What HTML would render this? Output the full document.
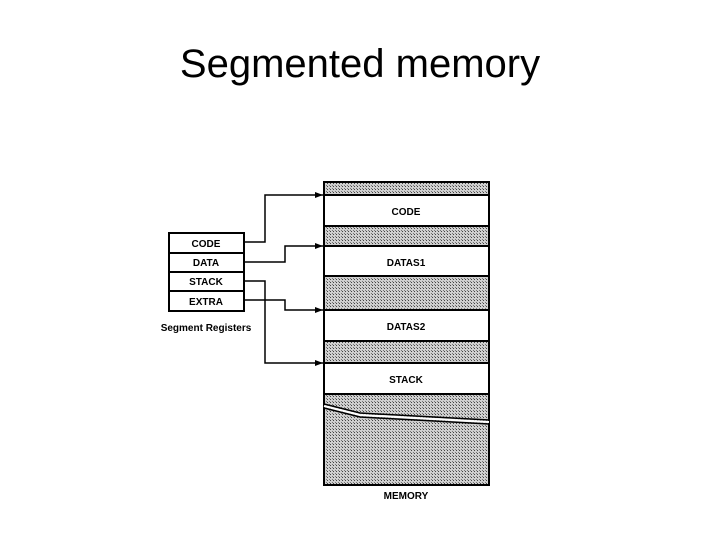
<!DOCTYPE html>
<html><head><style>
body{margin:0;width:720px;height:540px;background:#fff;overflow:hidden}
.t{position:absolute;left:0;width:720px;top:42px;text-align:center;font-family:"Liberation Sans",sans-serif;font-size:40px;color:#000}
</style></head><body>
<div class="t">Segmented memory</div>
<svg width="720" height="540" style="position:absolute;left:0;top:0">
<defs>
<pattern id="p" width="3" height="3" patternUnits="userSpaceOnUse">
<rect width="3" height="3" fill="#cfcfcf"/><rect width="1" height="1" fill="#444"/><rect x="2" y="2" width="1" height="1" fill="#777"/>
</pattern>
<marker id="a" markerWidth="8" markerHeight="6" refX="8" refY="3" orient="auto" markerUnits="userSpaceOnUse"><path d="M0,0L8,3L0,6z" fill="#000"/></marker>
</defs>
<g stroke="#000" stroke-width="2">
<rect x="324" y="182" width="165" height="303" fill="url(#p)"/>
<rect x="324" y="195" width="165" height="31" fill="#fff"/>
<rect x="324" y="246" width="165" height="30" fill="#fff"/>
<rect x="324" y="310" width="165" height="31" fill="#fff"/>
<rect x="324" y="363" width="165" height="31" fill="#fff"/>
</g>
<path d="M324,404 L360,413 L489,420" stroke="#000" stroke-width="1.5" fill="none"/>
<path d="M324,406 L360,415 L489,422" stroke="#fff" stroke-width="2" fill="none"/>
<path d="M324,408 L360,417 L489,424" stroke="#000" stroke-width="1.5" fill="none"/>
<g stroke="#000" stroke-width="2" fill="#fff">
<rect x="169" y="233" width="75" height="20"/>
<rect x="169" y="253" width="75" height="19"/>
<rect x="169" y="272" width="75" height="19"/>
<rect x="169" y="291" width="75" height="20"/>
</g>
<g stroke="#000" stroke-width="1.5" fill="none" marker-end="url(#a)">
<path d="M244,242H265V195H323"/>
<path d="M244,262H285V246H323"/>
<path d="M244,281H265V363H323"/>
<path d="M244,300H285V310H323"/>
</g>
<g font-family="Liberation Sans,sans-serif" font-weight="bold" font-size="10" text-anchor="middle" fill="#000">
<text x="206" y="247">CODE</text>
<text x="206" y="266">DATA</text>
<text x="206" y="285">STACK</text>
<text x="206" y="305">EXTRA</text>
<text x="206" y="331">Segment Registers</text>
<text x="406" y="215">CODE</text>
<text x="406" y="266">DATAS1</text>
<text x="406" y="330">DATAS2</text>
<text x="406" y="383">STACK</text>
<text x="406" y="499">MEMORY</text>
</g>
</svg>
</body></html>
